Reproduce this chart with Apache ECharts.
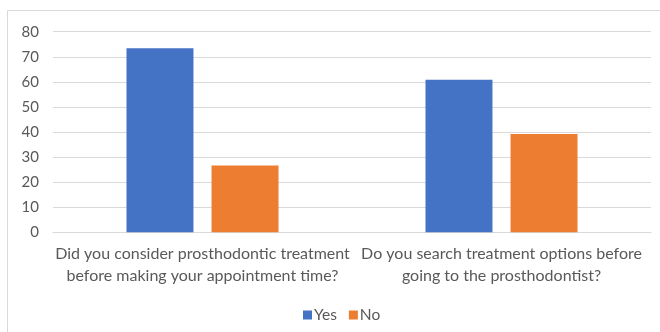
<!DOCTYPE html>
<html>
<head>
<meta charset="utf-8">
<script src="https://cdn.jsdelivr.net/npm/echarts@6/dist/echarts.min.js"></script>
<style>
  html, body { margin: 0; padding: 0; background: #ffffff; }
  #chart { width: 660px; height: 332px; }
</style>
</head>
<body>
<div id="chart"></div>
<script>
// Survey questions (x-axis categories)
const categories = [
  'Did you consider prosthodontic treatment\nbefore making your appointment time?',
  'Do you search treatment options before\ngoing to the prosthodontist?'
];
// Percent of respondents per answer
const yesValues = [73.4, 60.8];
const noValues = [26.6, 39.2];
const seriesNames = ['Yes', 'No'];
// Value axis ticks
const yMin = 0;
const yMax = 80;
const yStep = 10;

const font = 'Lato, "Liberation Sans", Arial, sans-serif';
const textColor = '#595959';

const chart = echarts.init(document.getElementById('chart'), null, { renderer: 'canvas' });
chart.setOption({
  animation: false,
  backgroundColor: '#ffffff',
  textStyle: { fontFamily: font, color: textColor },
  graphic: [{
    type: 'rect',
    shape: { x: 7.5, y: 10.5, width: 700, height: 400 },
    style: { fill: 'none', stroke: '#d9d9d9', lineWidth: 1 },
    silent: true
  }],
  grid: { left: 53, right: 9, top: 31.7, bottom: 99.7, containLabel: false },
  legend: {
    data: seriesNames,
    left: 298,
    top: 302,
    itemWidth: 9,
    itemHeight: 9,
    itemGap: 12,
    icon: 'rect',
    textStyle: { fontFamily: font, fontSize: 15.5, color: textColor, padding: [0, 0, 0, -3] }
  },
  xAxis: {
    type: 'category',
    data: categories,
    axisLine: { show: true, lineStyle: { color: '#d9d9d9', width: 1 } },
    axisTick: { show: false },
    axisLabel: {
      interval: 0,
      margin: 11,
      fontFamily: font,
      fontSize: 16,
      lineHeight: 22,
      color: textColor,
      align: 'center'
    }
  },
  yAxis: {
    type: 'value',
    min: yMin,
    max: yMax,
    interval: yStep,
    axisLine: { show: false },
    axisTick: { show: false },
    axisLabel: { margin: 14, fontFamily: font, fontSize: 15, color: textColor },
    splitLine: { lineStyle: { color: '#d9d9d9', width: 1 } }
  },
  series: [
    {
      name: seriesNames[0],
      type: 'bar',
      data: yesValues,
      barWidth: '22.4%',
      barGap: '27%',
      itemStyle: { color: '#4472c4' }
    },
    {
      name: seriesNames[1],
      type: 'bar',
      data: noValues,
      barWidth: '22.4%',
      itemStyle: { color: '#ed7d31' }
    }
  ]
});
</script>
</body>
</html>
